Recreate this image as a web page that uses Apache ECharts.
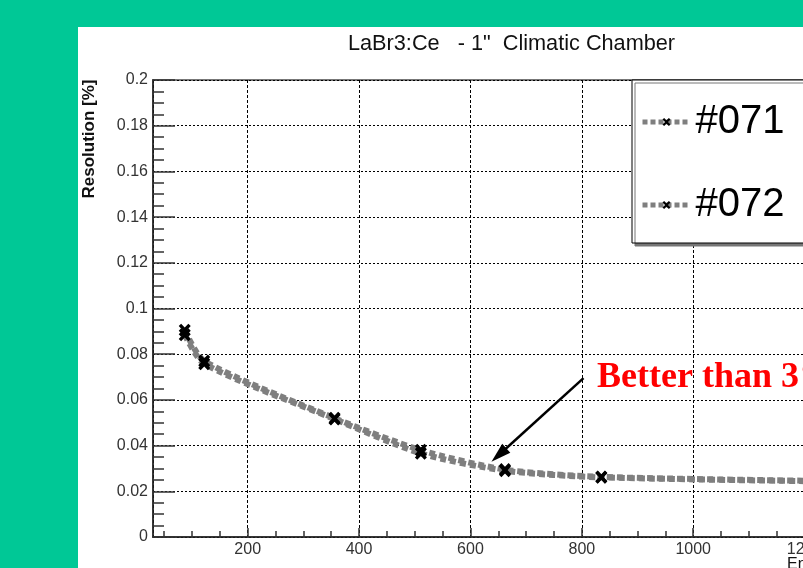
<!DOCTYPE html>
<html>
<head>
<meta charset="utf-8">
<script src="https://cdn.jsdelivr.net/npm/echarts@6/dist/echarts.min.js"></script>
<style>
  html, body { margin: 0; padding: 0; width: 803px; height: 568px; overflow: hidden; background: #00C896; }
  #panel { position: absolute; left: 78px; top: 27px; width: 900px; height: 541px; background: #ffffff; }
  #chart { width: 900px; height: 541px; }
</style>
</head>
<body>
<div id="panel"><div id="chart"></div></div>
<script>
// Energy resolution of two LaBr3:Ce 1" crystals vs. gamma energy (keV)
const energies = [87, 122, 356, 511, 662, 835, 1275];
const res071 = [0.0905, 0.0770, 0.0520, 0.0380, 0.0295, 0.0263, 0.0244];
const res072 = [0.0885, 0.0758, 0.0516, 0.0366, 0.0290, 0.0261, 0.0242];
const seriesNames = ['#071', '#072'];
const xMinorTicks = [50, 100, 150, 250, 300, 350, 450, 500, 550, 650, 700, 750,
                     850, 900, 950, 1050, 1100, 1150, 1250, 1300, 1350];

const FONT = "'Liberation Sans', Arial, sans-serif";
const markerPath = 'path://M2,0 L5,3.2 L8,0 L10,2 L6.8,5.5 L10,9 L8,11 L5,7.8 L2,11 L0,9 L3.2,5.5 L0,2 Z';
const arrowHead = 'path://M5,0 L10,18 L0,18 Z';

function pairs(xs, ys) { return xs.map((x, i) => [x, ys[i]]); }

function lineSeries(name, values) {
  return {
    name: name,
    type: 'line',
    data: pairs(energies, values),
    smooth: 0.25,
    symbol: markerPath,
    symbolSize: [12, 13],
    itemStyle: { color: '#000' },
    lineStyle: { color: '#7f7f7f', width: 6, type: [6, 4], cap: 'butt' },
    z: 3
  };
}

const s071 = lineSeries(seriesNames[0], res071);
s071.markLine = {
  silent: true,
  animation: false,
  symbol: ['none', arrowHead],
  symbolSize: [12, 20],
  label: { show: false },
  lineStyle: { color: '#000', width: 2.5, type: 'solid' },
  data: [[{ coord: [803, 0.0695] }, { coord: [651, 0.0359] }]]
};
const s072 = lineSeries(seriesNames[1], res072);

const chart = echarts.init(document.getElementById('chart'), null, { renderer: 'canvas' });
chart.setOption({
  animation: false,
  backgroundColor: '#ffffff',
  title: {
    text: 'LaBr3:Ce   - 1"  Climatic Chamber',
    left: 270, top: 6, padding: 0,
    textStyle: { fontFamily: FONT, fontSize: 21.7, fontWeight: 'normal', color: '#111', lineHeight: 22 }
  },
  grid: {
    left: 75, top: 53, right: 62, bottom: 31,
    show: true, borderColor: '#777', borderWidth: 2, backgroundColor: 'transparent'
  },
  legend: {
    orient: 'vertical',
    left: 554, top: 53,
    padding: [21, 60, 17, 8],
    itemGap: 41,
    itemWidth: 48, itemHeight: 10,
    backgroundColor: '#fff',
    borderColor: '#000', borderWidth: 1,
    shadowColor: '#777', shadowBlur: 0, shadowOffsetX: 3, shadowOffsetY: 3,
    lineStyle: { color: '#7f7f7f', width: 5, type: [5, 3] },
    textStyle: { fontFamily: FONT, fontSize: 40, color: '#000', lineHeight: 42 },
    data: seriesNames
  },
  xAxis: [
    {
      type: 'value', min: 30, max: 1400, splitNumber: 7,
      position: 'bottom',
      axisLine: { show: true, onZero: false, lineStyle: { color: '#222', width: 1.5 } },
      axisTick: { show: true, inside: true, length: 9, lineStyle: { color: '#333', width: 1.5 } },
      axisLabel: {
        showMinLabel: false, margin: 5, fontFamily: FONT, fontSize: 16, color: '#333',
        formatter: v => String(Math.round(v))
      },
      splitLine: { show: true, lineStyle: { color: '#000', width: 1, type: [3, 2] } }
    },
    {
      type: 'value', min: 30, max: 1400,
      position: 'bottom',
      axisLine: { show: false, onZero: false },
      axisTick: { show: true, inside: true, length: 6, customValues: xMinorTicks, lineStyle: { color: '#333', width: 1.5 } },
      axisLabel: { show: false },
      splitLine: { show: false }
    }
  ],
  yAxis: {
    type: 'value', min: 0, max: 0.2, interval: 0.02,
    axisLine: { show: true, onZero: false, lineStyle: { color: '#222', width: 1.5 } },
    axisTick: { show: true, inside: true, length: 22, lineStyle: { color: '#333', width: 1.5 } },
    minorTick: { show: true, splitNumber: 4, length: 11, lineStyle: { color: '#333', width: 1.5 } },
    axisLabel: {
      margin: 5, fontFamily: FONT, fontSize: 16, color: '#333',
      formatter: v => String(+v.toFixed(3))
    },
    splitLine: { show: true, lineStyle: { color: '#000', width: 1, type: [2, 2] } }
  },
  graphic: [
    {
      type: 'text', x: 11, y: 112, rotation: Math.PI / 2,
      style: { text: 'Resolution [%]', font: "bold 17px 'Liberation Sans', Arial, sans-serif", fill: '#111', align: 'center', verticalAlign: 'middle' }
    },
    {
      type: 'text', x: 709, y: 530,
      style: { text: 'Energy [keV]', font: "16px 'Liberation Sans', Arial, sans-serif", fill: '#111', align: 'left', verticalAlign: 'top' }
    },
    {
      type: 'text', x: 519, y: 351, z: 10,
      style: { text: 'Better than 3% @ 662 keV', font: "bold 36px 'Liberation Serif', 'Times New Roman', serif", fill: '#FF0000', align: 'left', verticalAlign: 'middle' }
    }
  ],
  series: [s071, s072]
});
</script>
</body>
</html>
